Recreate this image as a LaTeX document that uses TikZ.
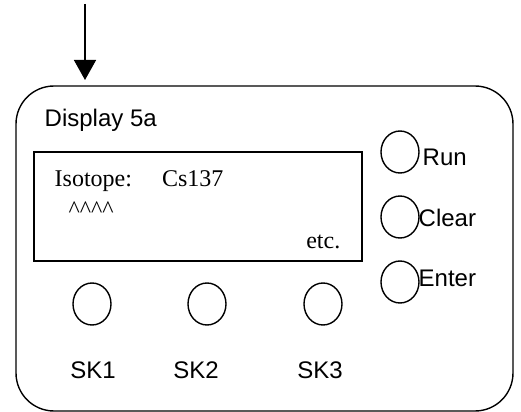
\documentclass[tikz,border=0pt]{standalone}
\usepackage{fontspec}
\setmainfont{Liberation Serif}
\newfontfamily\arialfont{Liberation Sans}
\usetikzlibrary{shapes.geometric,arrows.meta}

\tikzset{
  key/.style={draw, ellipse, minimum width=19pt, minimum height=21pt, inner sep=0pt},
  keylabel/.style={font=\arialfont\fontsize{12}{14}\selectfont, inner sep=0pt},
  lcd/.style={font=\fontsize{12}{14}\selectfont, inner sep=0pt},
}

\begin{document}
\begin{tikzpicture}[x=0.5pt, y=-0.5pt, line width=0.7pt]
\useasboundingbox (0,0) rectangle (521,412);

\def\xk{400}; % right key column
\def\yk{304}; % soft key row
\def\yl{370}; % soft key labels

% arrow into the panel
\coordinate (arrowtop) at (85,4);
\coordinate (arrowtip) at (85,80);
\draw[-{Triangle[length=10pt,width=11pt]}] (arrowtop) -- (arrowtip);

% panel and screen
\node[draw, rounded corners=19pt, minimum width=248.5pt, minimum height=162.5pt] (panel) at (264.5,248.5) {};
\node[keylabel, anchor=west] (title) at (44,120) {Display 5a};
\node[draw, minimum width=164pt, minimum height=54.5pt] (screen) at (198,206.5) {};

\node[lcd, anchor=base west] (isotope) at (54,186) {Isotope:\hspace{15pt}Cs137};
\node[lcd, anchor=base west] (marks) at (68,217) {\textasciicircum\textasciicircum\textasciicircum\textasciicircum};
\node[lcd, anchor=east] (etc) at (341,242) {etc.};

% keys on the right
\node[key] (run) at (\xk,152) {};
\node[key] (clear) at (\xk,217) {};
\node[key] (enter) at (\xk,282) {};
\node[keylabel, anchor=west] (runlabel) at (422,157) {Run};
\node[keylabel, anchor=west] (clearlabel) at (418,218) {Clear};
\node[keylabel, anchor=west] (enterlabel) at (418,278) {Enter};

% soft keys
\foreach \i/\x/\lx in {1/92/93, 2/207/196, 3/323/320}{
  \node[key] (sk\i) at (\x,\yk) {};
  \node[keylabel] (sk\i label) at (\lx,\yl) {SK\i};
}

\end{tikzpicture}
\end{document}
